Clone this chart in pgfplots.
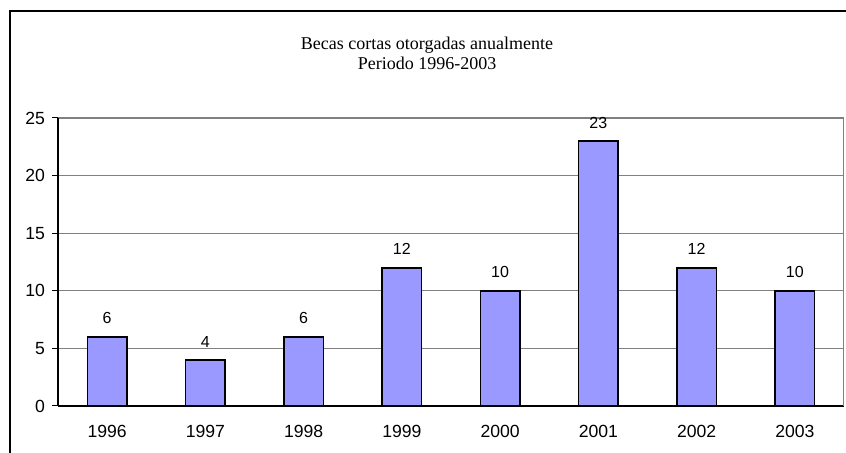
\documentclass[border=0pt]{standalone}
\usepackage{fontspec}
\setmainfont{Liberation Sans}
\newfontfamily\titlefont{Liberation Serif}
\usepackage{pgfplots}
\pgfplotsset{compat=1.18}
\definecolor{barfill}{HTML}{9999FF}
\begin{document}
\begin{tikzpicture}[x=0.5pt,y=0.5pt]
\useasboundingbox (0,0) rectangle (846,453);
\draw[black, line width=0.7pt] (10,0) -- (10,442) -- (846,442);
\node[align=center, font=\titlefont\fontsize{9}{10}\selectfont] at (427,400)
  {Becas cortas otorgadas anualmente\\Periodo 1996-2003};
\begin{axis}[
    at={(29pt,23.5pt)}, anchor=south west,
    scale only axis, width=393pt, height=144pt,
    ybar, bar width=19.75pt,
    xmin=-0.5, xmax=7.5, ymin=0, ymax=25,
    axis x line*=bottom, axis y line*=left,
    axis line style={black, line width=0.6pt},
    xtick={0,...,7},
    xticklabels={1996,1997,1998,1999,2000,2001,2002,2003},
    major x tick style={draw=none},
    extra x ticks={-0.5,0.5,...,7.5},
    extra x tick labels={},
    extra x tick style={major tick length=3pt, tick style={black, line width=0.5pt}},
    ytick={0,5,...,25},
    tick align=outside, major tick length=3pt,
    tick style={black, line width=0.5pt},
    ymajorgrids, grid style={gray, line width=0.6pt},
    ticklabel style={font=\fontsize{8.8}{10}\selectfont},
    /pgf/number format/assume math mode=true,
    xticklabel style={yshift=-3pt},
    nodes near coords,
    every node near coord/.append style={font=\fontsize{8}{9}\selectfont, inner sep=0pt, anchor=south, yshift=6pt},
]
\addplot[fill=barfill, draw=black, line width=0.8pt] coordinates {
    (0,6) (1,4) (2,6) (3,12) (4,10) (5,23) (6,12) (7,10)};
\draw[gray, line width=0.6pt] (rel axis cs:1,0) -- (rel axis cs:1,1);
\end{axis}
\end{tikzpicture}
\end{document}
